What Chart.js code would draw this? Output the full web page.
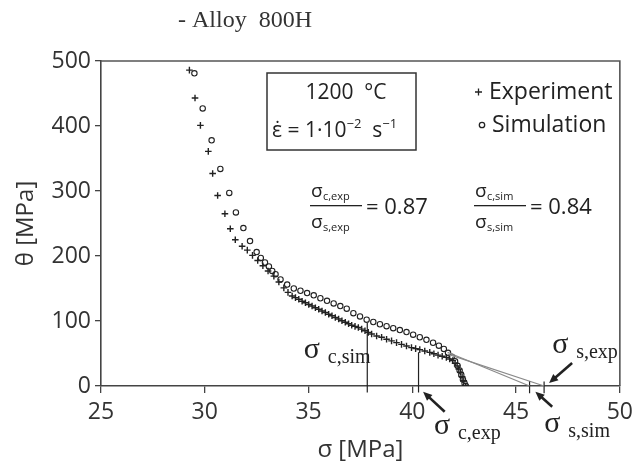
<!DOCTYPE html>
<html>
<head>
<meta charset="utf-8">
<script src="https://cdn.jsdelivr.net/npm/chart.js@4/dist/chart.umd.min.js"></script>
<style>
  html, body { margin: 0; background: #fff; }
  #chart { display: block; }
</style>
</head>
<body>
<canvas id="chart" width="639" height="462"></canvas>
<script>
// experiment (+), sigma [MPa] vs theta [MPa]
const expSigma = [29.26, 29.53, 29.79, 30.17, 30.38, 30.62, 30.97, 31.23, 31.47, 31.80,
  32.05, 32.30, 32.55, 32.80, 33.05, 33.33, 33.57, 33.81, 34.01, 34.21,
  34.37, 34.53, 34.69, 34.85, 35.01, 35.17, 35.33, 35.49, 35.65, 35.81,
  35.97, 36.13, 36.29, 36.45, 36.61, 36.77, 36.93, 37.08, 37.24, 37.40,
  37.56, 37.72, 37.88, 38.04, 38.28, 38.52, 38.76, 39.00, 39.24, 39.48,
  39.72, 39.96, 40.16, 40.36, 40.60, 40.84, 41.04, 41.24, 41.44, 41.64,
  41.80, 41.95, 42.06, 42.16, 42.24, 42.32, 42.40, 42.48, 42.56];
const expTheta = [486, 443, 401, 361, 327, 293, 265, 242, 225, 215,
  209, 201, 193, 185, 177, 169, 160, 151, 144, 138.5,
  136, 133.4, 130.5, 128, 125.5, 123, 120.5, 118, 115.5, 113,
  110.5, 108, 105.5, 103, 100.5, 98, 95.7, 93.5, 91.8, 90,
  87.5, 85, 82.5, 80, 77, 75, 72, 69.5, 66.8, 64,
  61.5, 59, 57.5, 56, 53.8, 51.7, 49.6, 47.5, 45.8, 44,
  41.5, 39, 35, 31, 26, 21, 14.5, 8, 0];

// simulation (o)
const simSigma = [29.50, 29.90, 30.33, 30.75, 31.18, 31.50, 31.86, 32.18, 32.50, 32.70,
  32.90, 33.09, 33.25, 33.41, 33.65, 33.97, 34.29, 34.61, 34.93, 35.25,
  35.57, 35.89, 36.21, 36.53, 36.84, 37.16, 37.48, 37.80, 38.12, 38.44,
  38.76, 39.08, 39.40, 39.72, 40.04, 40.36, 40.68, 41.00, 41.28, 41.52,
  41.72, 41.90, 42.06, 42.18, 42.28, 42.36, 42.44, 42.52, 42.58];
const simTheta = [481, 427, 378, 334, 297, 267, 243, 223, 206, 197,
  190, 184, 177, 172, 164, 156, 150, 146.5, 143, 139.5,
  135, 131, 127, 123, 119, 112, 107, 102, 98.5, 95,
  92, 89, 86, 83, 79, 75, 71, 66.5, 62, 57,
  51, 45, 38, 31, 24, 17, 10, 4, 0];

// critical stresses (vertical lines) and saturation stresses (tangent ends)
const critSigma = [37.83, 40.3];   // sim, exp
const critTheta = [97, 52];
const satSigma = [45.65, 46.35];    // sim, exp
const tangentStartSigma = [41.7, 41.7];
const tangentStartTheta = [52, 49];

const xTicks = [25, 30, 35, 40, 45, 50];
const yTicks = [0, 100, 200, 300, 400, 500];

const SANS = "'Open Sans', 'Liberation Sans', sans-serif";
const SERIF = "'Liberation Serif', 'DejaVu Serif', serif";

const zip = (xs, ys) => xs.map((v, i) => ({ x: v, y: ys[i] }));

const datasets = [];
// tangent lines
for (let i = 0; i < satSigma.length; i++) {
  datasets.push({
    data: [{ x: tangentStartSigma[i], y: tangentStartTheta[i] }, { x: satSigma[i], y: 0 }],
    showLine: true, borderColor: "#8a8a8a", borderWidth: 1.2, pointRadius: 0, clip: false,
  });
  // small marks across the axis at the saturation stresses
  datasets.push({
    data: [{ x: satSigma[i], y: 7 }, { x: satSigma[i], y: -11 }],
    showLine: true, borderColor: "#222", borderWidth: 1.2, pointRadius: 0, clip: false,
  });
}
// vertical lines at critical stresses
for (let i = 0; i < critSigma.length; i++) {
  datasets.push({
    data: [{ x: critSigma[i], y: critTheta[i] }, { x: critSigma[i], y: -10 }],
    showLine: true, borderColor: "#222", borderWidth: 1.2, pointRadius: 0, clip: false,
  });
}
datasets.push({
  label: "Experiment",
  data: zip(expSigma, expTheta),
  pointStyle: "cross", pointRadius: 3.3, borderWidth: 1.4,
  borderColor: "#222", backgroundColor: "#222", showLine: false,
});
datasets.push({
  label: "Simulation",
  data: zip(simSigma, simTheta),
  pointStyle: "circle", pointRadius: 2.7, borderWidth: 1.1,
  borderColor: "#222", backgroundColor: "rgba(255,255,255,0)", showLine: false,
});

function arrow(ctx, x1, y1, x2, y2) {
  const a = Math.atan2(y2 - y1, x2 - x1);
  const L = 9, W = 4;
  ctx.beginPath();
  ctx.moveTo(x1, y1);
  ctx.lineTo(x2 - Math.cos(a) * L * 0.6, y2 - Math.sin(a) * L * 0.6);
  ctx.lineWidth = 2.6;
  ctx.stroke();
  ctx.beginPath();
  ctx.moveTo(x2, y2);
  ctx.lineTo(x2 - Math.cos(a) * L + Math.sin(a) * W, y2 - Math.sin(a) * L - Math.cos(a) * W);
  ctx.lineTo(x2 - Math.cos(a) * L - Math.sin(a) * W, y2 - Math.sin(a) * L + Math.cos(a) * W);
  ctx.closePath();
  ctx.fill();
}

// sigma label with subscript, serif (like the hand-placed labels)
function sigmaLabel(ctx, x, y, sub) {
  ctx.font = "30px " + SERIF;
  ctx.textAlign = "left";
  ctx.fillText("σ", x, y);
  ctx.font = "20px " + SERIF;
  ctx.fillText(sub, x + 24, y + 5);
}

// small sans sigma with subscript for the ratio fractions
function sigmaSmall(ctx, x, y, sub) {
  ctx.font = "19px " + SANS;
  ctx.textAlign = "left";
  ctx.fillText("σ", x, y);
  ctx.font = "11px " + SANS;
  ctx.fillText(sub, x + 12, y + 3);
}

function fraction(ctx, x, y, num, den, value) {
  ctx.fillStyle = "#222";
  sigmaSmall(ctx, x + 1, y - 9, num);
  sigmaSmall(ctx, x + 1, y + 22, den);
  ctx.fillRect(x, y - 1, 52, 1.3);
  ctx.font = "22px " + SANS;
  ctx.fillText("= " + value, x + 56, y + 8);
}

const annotate = {
  id: "annotate",
  afterDraw(chart) {
    const { ctx, chartArea: a, scales: { x, y } } = chart;
    const X = v => x.getPixelForValue(v);
    const Y = v => y.getPixelForValue(v);
    ctx.save();
    // frame top / right
    ctx.strokeStyle = "#555";
    ctx.lineWidth = 1.6;
    ctx.beginPath();
    ctx.moveTo(a.left, a.top);
    ctx.lineTo(a.right, a.top);
    ctx.lineTo(a.right, a.bottom);
    ctx.stroke();

    // title
    ctx.fillStyle = "#333";
    ctx.font = "24px " + SERIF;
    ctx.textAlign = "left";
    ctx.textBaseline = "alphabetic";
    ctx.fillText("- Alloy  800H", 178, 27);

    // conditions box
    ctx.strokeStyle = "#333";
    ctx.lineWidth = 1.5;
    ctx.strokeRect(267, 73, 149, 77);
    ctx.fillStyle = "#222";
    ctx.font = "21px " + SANS;
    ctx.textAlign = "center";
    ctx.fillText("1200  °C", 346, 99);
    ctx.textAlign = "left";
    let cx = 272;
    const part = (t, size, dy) => {
      ctx.font = size + "px " + SANS;
      ctx.fillText(t, cx, 137 + dy);
      cx += ctx.measureText(t).width;
    };
    part("ε̇ = 1·10", 21, 0);
    part("−2", 13, -9);
    part("  s", 21, 0);
    part("−1", 13, -9);

    // legend
    ctx.font = "23px " + SANS;
    ctx.fillText("Experiment", 489, 99);
    ctx.fillText("Simulation", 492, 132);
    ctx.lineWidth = 1.3;
    ctx.strokeStyle = "#222";
    ctx.beginPath();
    ctx.moveTo(475, 92); ctx.lineTo(482, 92);
    ctx.moveTo(478.5, 88.5); ctx.lineTo(478.5, 95.5);
    ctx.stroke();
    ctx.beginPath();
    ctx.arc(482, 125, 2.7, 0, Math.PI * 2);
    ctx.stroke();

    // ratios
    fraction(ctx, 310, 206, "c,exp", "s,exp", "0.87");
    fraction(ctx, 474, 206, "c,sim", "s,sim", "0.84");

    // stress labels and arrows (data coordinates)
    ctx.fillStyle = "#222";
    ctx.strokeStyle = "#222";
    sigmaLabel(ctx, X(34.77), Y(43), "c,sim");
    sigmaLabel(ctx, X(41.04), Y(-74), "c,exp");
    sigmaLabel(ctx, X(46.36), Y(-70), "s,sim");
    sigmaLabel(ctx, X(46.74), Y(51), "s,exp");
    arrow(ctx, X(41.56), Y(-39.5), X(40.52), Y(-8.8));
    arrow(ctx, X(46.74), Y(-31.8), X(45.93), Y(-8.8));
    arrow(ctx, X(47.70), Y(35.4), X(46.59), Y(4.6));
    ctx.restore();
  },
};

new Chart(document.getElementById("chart"), {
  type: "scatter",
  data: { datasets },
  options: {
    responsive: false,
    animation: false,
    devicePixelRatio: 1,
    layout: { padding: { top: 61, right: 16, left: 0, bottom: 0 } },
    plugins: { legend: { display: false }, tooltip: { enabled: false } },
    scales: {
      x: {
        type: "linear",
        min: xTicks[0],
        max: xTicks[xTicks.length - 1],
        afterBuildTicks: s => { s.ticks = xTicks.map(v => ({ value: v })); },
        afterFit: s => { s.height = 76; },
        ticks: { color: "#333", font: { family: SANS, size: 23 }, padding: 6 },
        grid: { drawOnChartArea: false, tickLength: 7, color: "#444", lineWidth: 1.3 },
        border: { color: "#444", width: 1.6 },
        title: {
          display: true, text: "σ [MPa]", color: "#333",
          font: { family: SANS, size: 24, lineHeight: 1 }, padding: { top: 0, bottom: 0 },
        },
      },
      y: {
        type: "linear",
        min: yTicks[0],
        max: yTicks[yTicks.length - 1],
        afterBuildTicks: s => { s.ticks = yTicks.map(v => ({ value: v })); },
        afterFit: s => { s.width = 101; },
        ticks: { color: "#333", font: { family: SANS, size: 23 }, padding: 4 },
        grid: { drawOnChartArea: false, tickLength: 6, color: "#444", lineWidth: 1.3 },
        border: { color: "#444", width: 1.6 },
        title: {
          display: true, text: "θ [MPa]", color: "#333",
          font: { family: SANS, size: 24, lineHeight: 1 }, padding: { top: 14, bottom: 0 },
        },
      },
    },
  },
  plugins: [annotate],
});
</script>
</body>
</html>
